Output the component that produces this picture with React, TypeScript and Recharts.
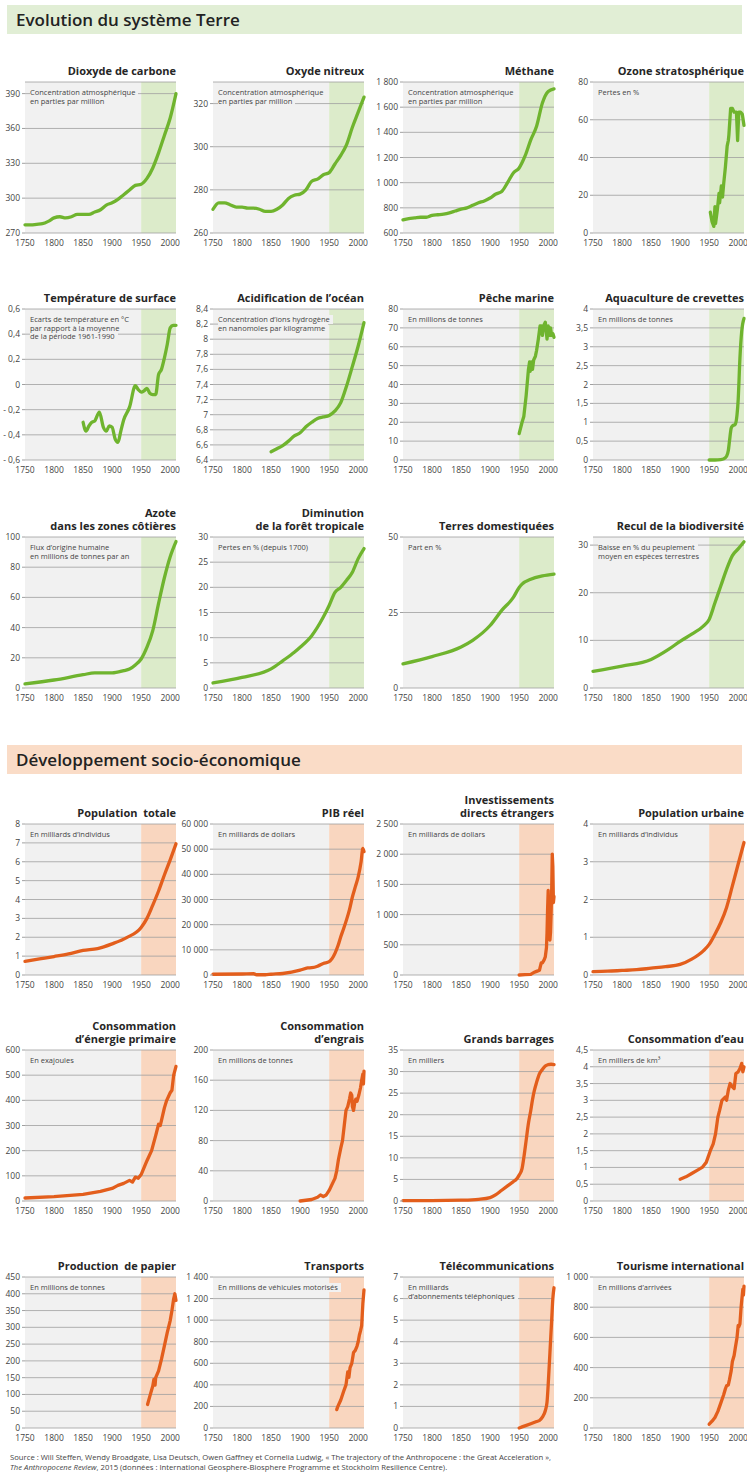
import React from 'react';
import { LineChart, Line, XAxis, YAxis, CartesianGrid, ReferenceArea } from 'recharts';

const FONT = '"Open Sans", "Noto Sans", sans-serif';
const X_TICKS = [1750, 1800, 1850, 1900, 1950, 2000];
const X_DOMAIN: [number, number] = [1750, 2010];
const SHADE_START = 1950;

// ---- Evolution du système Terre ----
const co2Years = [1750, 1760, 1770, 1780, 1790, 1800, 1810, 1820, 1830, 1840, 1850, 1860, 1870, 1880, 1890, 1900, 1910, 1920, 1930, 1940, 1950, 1960, 1970, 1980, 1990, 2000, 2010];
const co2Values = [277, 277, 277.5, 278, 280, 283, 284, 283, 284, 286, 286, 286, 288, 290, 294, 296, 299, 303, 307, 311, 312, 317, 326, 339, 354, 369, 390];
const co2Ticks = [270, 300, 330, 360, 390];

const n2oYears = [1750, 1760, 1770, 1780, 1790, 1800, 1810, 1820, 1830, 1840, 1850, 1860, 1870, 1880, 1890, 1900, 1910, 1920, 1930, 1940, 1950, 1960, 1970, 1980, 1990, 2000, 2010];
const n2oValues = [271, 274, 274, 273, 272, 272, 271.5, 271.5, 271, 270, 270, 271, 273, 276, 277.5, 278, 280, 284, 285, 287, 288, 292, 296, 301, 309, 316, 323];
const n2oTicks = [260, 280, 300, 320];

const ch4Years = [1750, 1760, 1770, 1780, 1790, 1800, 1810, 1820, 1830, 1840, 1850, 1860, 1870, 1880, 1890, 1900, 1910, 1920, 1930, 1940, 1950, 1960, 1970, 1980, 1990, 2000, 2010];
const ch4Values = [705, 715, 720, 725, 725, 740, 745, 750, 760, 775, 790, 800, 820, 840, 855, 878, 910, 930, 1000, 1077, 1117, 1210, 1340, 1448, 1633, 1725, 1745];
const ch4Ticks = [600, 800, 1000, 1200, 1400, 1600, 1800];

const ozoneYears = [1952, 1955, 1958, 1960, 1961, 1964, 1967, 1968, 1971, 1973, 1975, 1978, 1981, 1983, 1984, 1987, 1990, 1993, 1997, 1999, 2001, 2004, 2007, 2010];
const ozoneValues = [11, 6, 3.5, 14, 5, 12, 21, 16, 25, 19, 26, 35, 46, 49, 52, 66, 66, 64, 64, 49, 64, 64, 63, 57];
const ozoneTicks = [0, 20, 40, 60, 80];

const tempYears = [1850, 1855, 1860, 1865, 1870, 1878, 1885, 1890, 1895, 1900, 1905, 1910, 1915, 1920, 1930, 1940, 1945, 1950, 1955, 1960, 1965, 1970, 1975, 1980, 1985, 1990, 1995, 2000, 2005, 2010];
const tempValues = [-0.30, -0.37, -0.33, -0.30, -0.29, -0.22, -0.34, -0.37, -0.33, -0.34, -0.43, -0.46, -0.37, -0.28, -0.18, -0.01, -0.04, -0.06, -0.05, -0.03, -0.07, -0.08, -0.08, 0.08, 0.12, 0.21, 0.32, 0.45, 0.47, 0.47];
const tempTicks = [-0.6, -0.4, -0.2, 0, 0.2, 0.4, 0.6];

const acidYears = [1850, 1860, 1870, 1880, 1890, 1900, 1910, 1920, 1930, 1940, 1950, 1960, 1970, 1980, 1990, 2000, 2010];
const acidValues = [6.51, 6.55, 6.59, 6.65, 6.72, 6.76, 6.84, 6.9, 6.95, 6.97, 6.99, 7.05, 7.16, 7.38, 7.64, 7.91, 8.22];
const acidTicks = [6.4, 6.6, 6.8, 7, 7.2, 7.4, 7.6, 7.8, 8, 8.2, 8.4];

const fishYears = [1950, 1955, 1958, 1962, 1966, 1968, 1969, 1971, 1973, 1975, 1978, 1980, 1983, 1986, 1988, 1990, 1992, 1995, 1997, 1998, 2000, 2002, 2004, 2006, 2008, 2010];
const fishValues = [14, 20, 23, 34, 48, 52, 47, 52, 48, 53, 55, 58, 64, 71, 71, 66, 71, 73, 67, 64, 71, 66, 70, 66, 67, 65];
const fishTicks = [0, 10, 20, 30, 40, 50, 60, 70, 80];

const shrimpYears = [1950, 1960, 1970, 1975, 1980, 1983, 1985, 1988, 1990, 1995, 1998, 2000, 2003, 2006, 2010];
const shrimpValues = [0, 0, 0.01, 0.03, 0.1, 0.25, 0.5, 0.85, 0.9, 0.95, 1.2, 1.6, 2.7, 3.4, 3.75];
const shrimpTicks = [0, 0.5, 1, 1.5, 2, 2.5, 3, 3.5, 4];

const azoteYears = [1750, 1800, 1850, 1870, 1900, 1920, 1930, 1940, 1950, 1960, 1970, 1980, 1990, 2000, 2010];
const azoteValues = [2.7, 5.3, 8.8, 10, 10, 11.5, 12.6, 15.3, 19.2, 27, 38, 56, 73, 87, 97];
const azoteTicks = [0, 20, 40, 60, 80, 100];

const forestYears = [1750, 1800, 1850, 1870, 1890, 1900, 1920, 1940, 1950, 1960, 1970, 1980, 1990, 2000, 2010];
const forestValues = [1.0, 2.1, 3.8, 5.4, 7.1, 8.1, 10.4, 14.1, 16.4, 19.0, 20.0, 21.4, 23.0, 25.7, 27.7];
const forestTicks = [0, 5, 10, 15, 20, 25, 30];

const landYears = [1750, 1800, 1850, 1870, 1900, 1920, 1940, 1950, 1955, 1970, 1990, 2010];
const landValues = [8, 10.4, 13.6, 15.8, 20.7, 25.7, 30, 33.3, 34.4, 36, 37.1, 37.7];
const landTicks = [0, 25, 50];

const biodivYears = [1750, 1800, 1850, 1880, 1900, 1920, 1940, 1950, 1960, 1970, 1980, 1990, 2000, 2010];
const biodivValues = [3.5, 4.6, 6.0, 8.1, 9.8, 11.3, 13, 14.4, 17.9, 21.4, 24.9, 27.8, 29.2, 30.7];
const biodivTicks = [0, 10, 20, 30];

// ---- Développement socio-économique ----
const popYears = [1750, 1775, 1800, 1825, 1850, 1875, 1900, 1925, 1950, 1960, 1970, 1980, 1990, 2000, 2010];
const popValues = [0.72, 0.85, 0.98, 1.12, 1.3, 1.4, 1.65, 1.98, 2.52, 3.0, 3.7, 4.45, 5.3, 6.1, 6.95];
const popTicks = [0, 1, 2, 3, 4, 5, 6, 7, 8];

const gdpYears = [1750, 1800, 1820, 1825, 1840, 1850, 1870, 1900, 1913, 1920, 1930, 1940, 1950, 1955, 1960, 1965, 1970, 1975, 1980, 1985, 1990, 1995, 2000, 2005, 2008, 2010];
const gdpValues = [300, 400, 500, 100, 100, 300, 600, 1900, 2800, 2900, 3500, 4600, 5300, 6500, 8600, 11500, 15200, 18500, 22000, 26000, 31000, 35000, 39000, 45000, 50300, 49000];
const gdpTicks = [0, 10000, 20000, 30000, 40000, 50000, 60000];

const fdiYears = [1950, 1960, 1970, 1975, 1980, 1985, 1988, 1990, 1993, 1995, 1997, 1998, 1999, 2000, 2001, 2002, 2003, 2004, 2005, 2006, 2007, 2008, 2009, 2010];
const fdiValues = [0, 5, 10, 40, 60, 80, 200, 200, 250, 300, 450, 700, 1100, 1400, 800, 600, 580, 700, 1000, 1400, 2000, 1800, 1200, 1300];
const fdiTicks = [0, 500, 1000, 1500, 2000, 2500];

const urbanYears = [1750, 1775, 1800, 1825, 1850, 1875, 1900, 1920, 1940, 1950, 1960, 1970, 1980, 1990, 2000, 2010];
const urbanValues = [0.09, 0.1, 0.12, 0.14, 0.18, 0.22, 0.28, 0.42, 0.64, 0.81, 1.08, 1.39, 1.79, 2.36, 2.94, 3.51];
const urbanTicks = [0, 1, 2, 3, 4];

const energyYears = [1750, 1800, 1850, 1880, 1900, 1910, 1920, 1930, 1935, 1940, 1945, 1950, 1960, 1968, 1975, 1980, 1983, 1985, 1990, 1994, 2000, 2003, 2006, 2010];
const energyValues = [12, 17, 26, 38, 50, 62, 70, 82, 75, 95, 90, 105, 160, 200, 260, 305, 300, 320, 370, 400, 430, 440, 500, 535];
const energyTicks = [0, 100, 200, 300, 400, 500, 600];

const fertYears = [1900, 1910, 1920, 1930, 1935, 1940, 1945, 1950, 1955, 1960, 1963, 1966, 1970, 1973, 1976, 1979, 1982, 1985, 1987, 1989, 1990, 1992, 1994, 1996, 1998, 2001, 2004, 2006, 2008, 2009, 2010];
const fertValues = [0, 1, 2, 5, 8, 6, 8, 14, 22, 30, 40, 55, 70, 80, 100, 120, 125, 135, 143, 140, 125, 120, 130, 135, 132, 140, 150, 160, 168, 155, 172];
const fertTicks = [0, 40, 80, 120, 160, 200];

const damYears = [1750, 1800, 1850, 1880, 1900, 1910, 1920, 1930, 1940, 1945, 1950, 1955, 1958, 1962, 1966, 1970, 1973, 1976, 1980, 1985, 1990, 1995, 2000, 2005, 2010];
const damValues = [0.1, 0.1, 0.2, 0.4, 0.8, 1.5, 2.5, 3.5, 4.5, 5.0, 6.0, 7.5, 10, 14, 18, 21, 23.5, 25.5, 27.5, 29.5, 30.5, 31.3, 31.6, 31.7, 31.6];
const damTicks = [0, 5, 10, 15, 20, 25, 30, 35];

const waterYears = [1900, 1910, 1920, 1930, 1938, 1945, 1952, 1957, 1961, 1965, 1968, 1972, 1975, 1978, 1980, 1983, 1986, 1990, 1993, 1996, 2000, 2003, 2006, 2008, 2010];
const waterValues = [0.65, 0.72, 0.82, 0.92, 1.0, 1.15, 1.5, 1.7, 2.0, 2.5, 2.7, 3.0, 3.05, 3.1, 3.0, 3.3, 3.5, 3.4, 3.35, 3.8, 3.85, 3.95, 4.1, 3.85, 4.0];
const waterTicks = [0, 0.5, 1, 1.5, 2, 2.5, 3, 3.5, 4, 4.5];

const paperYears = [1961, 1965, 1970, 1972, 1974, 1975, 1980, 1985, 1990, 1995, 2000, 2003, 2006, 2008, 2010];
const paperValues = [70, 95, 125, 145, 128, 150, 170, 205, 245, 285, 320, 350, 385, 400, 380];
const paperTicks = [0, 50, 100, 150, 200, 250, 300, 350, 400, 450];

const transportYears = [1963, 1965, 1970, 1975, 1979, 1982, 1984, 1986, 1989, 1992, 1995, 1998, 2000, 2002, 2004, 2006, 2008, 2010];
const transportValues = [170, 200, 260, 340, 400, 520, 470, 560, 600, 700, 720, 760, 800, 860, 900, 950, 1150, 1280];
const transportTicks = [0, 200, 400, 600, 800, 1000, 1200, 1400];

const telecomYears = [1950, 1955, 1960, 1970, 1980, 1985, 1990, 1995, 1998, 2000, 2003, 2006, 2008, 2010];
const telecomValues = [0, 0.05, 0.1, 0.2, 0.3, 0.35, 0.5, 0.8, 1.2, 2.0, 3.5, 5.0, 6.0, 6.5];
const telecomTicks = [0, 1, 2, 3, 4, 5, 6, 7];

const tourismYears = [1950, 1955, 1960, 1965, 1970, 1975, 1978, 1980, 1983, 1985, 1988, 1990, 1993, 1995, 1998, 2000, 2001, 2003, 2005, 2008, 2009, 2010];
const tourismValues = [25, 45, 70, 110, 165, 220, 260, 280, 285, 320, 380, 440, 480, 530, 600, 680, 670, 690, 800, 920, 880, 940];
const tourismTicks = [0, 200, 400, 600, 800, 1000];

type PanelDef = {
  title: string[];
  note: string[];
  years: number[];
  values: number[];
  ticks: number[];
  domain: [number, number];
  smooth: boolean;
};

const earthPanels: PanelDef[] = [
  { title: ['Dioxyde de carbone'], note: ['Concentration atmosphérique', 'en parties par million'], years: co2Years, values: co2Values, ticks: co2Ticks, domain: [270, 400], smooth: true },
  { title: ['Oxyde nitreux'], note: ['Concentration atmosphérique', 'en parties par million'], years: n2oYears, values: n2oValues, ticks: n2oTicks, domain: [260, 330], smooth: true },
  { title: ['Méthane'], note: ['Concentration atmosphérique', 'en parties par million'], years: ch4Years, values: ch4Values, ticks: ch4Ticks, domain: [600, 1800], smooth: true },
  { title: ['Ozone stratosphérique'], note: ['Pertes en %'], years: ozoneYears, values: ozoneValues, ticks: ozoneTicks, domain: [0, 80], smooth: false },
  { title: ['Température de surface'], note: ['Ecarts de température en °C', 'par rapport à la moyenne', 'de la période 1961-1990'], years: tempYears, values: tempValues, ticks: tempTicks, domain: [-0.6, 0.6], smooth: true },
  { title: ['Acidification de l’océan'], note: ['Concentration d’ions hydrogène', 'en nanomoles par kilogramme'], years: acidYears, values: acidValues, ticks: acidTicks, domain: [6.4, 8.4], smooth: true },
  { title: ['Pêche marine'], note: ['En millions de tonnes'], years: fishYears, values: fishValues, ticks: fishTicks, domain: [0, 80], smooth: false },
  { title: ['Aquaculture de crevettes'], note: ['En millions de tonnes'], years: shrimpYears, values: shrimpValues, ticks: shrimpTicks, domain: [0, 4], smooth: true },
  { title: ['Azote', 'dans les zones côtières'], note: ['Flux d’origine humaine', 'en millions de tonnes par an'], years: azoteYears, values: azoteValues, ticks: azoteTicks, domain: [0, 100], smooth: true },
  { title: ['Diminution', 'de la forêt tropicale'], note: ['Pertes en % (depuis 1700)'], years: forestYears, values: forestValues, ticks: forestTicks, domain: [0, 30], smooth: true },
  { title: ['Terres domestiquées'], note: ['Part en %'], years: landYears, values: landValues, ticks: landTicks, domain: [0, 50], smooth: true },
  { title: ['Recul de la biodiversité'], note: ['Baisse en % du peuplement', 'moyen en espèces terrestres'], years: biodivYears, values: biodivValues, ticks: biodivTicks, domain: [0, 31.7], smooth: true },
];

const socioPanels: PanelDef[] = [
  { title: ['Population  totale'], note: ['En milliards d’individus'], years: popYears, values: popValues, ticks: popTicks, domain: [0, 8], smooth: true },
  { title: ['PIB réel'], note: ['En milliards de dollars'], years: gdpYears, values: gdpValues, ticks: gdpTicks, domain: [0, 60000], smooth: true },
  { title: ['Investissements', 'directs étrangers'], note: ['En milliards de dollars'], years: fdiYears, values: fdiValues, ticks: fdiTicks, domain: [0, 2500], smooth: false },
  { title: ['Population urbaine'], note: ['En milliards d’individus'], years: urbanYears, values: urbanValues, ticks: urbanTicks, domain: [0, 4], smooth: true },
  { title: ['Consommation', 'd’énergie primaire'], note: ['En exajoules'], years: energyYears, values: energyValues, ticks: energyTicks, domain: [0, 600], smooth: false },
  { title: ['Consommation', 'd’engrais'], note: ['En millions de tonnes'], years: fertYears, values: fertValues, ticks: fertTicks, domain: [0, 200], smooth: false },
  { title: ['Grands barrages'], note: ['En milliers'], years: damYears, values: damValues, ticks: damTicks, domain: [0, 35], smooth: true },
  { title: ['Consommation d’eau'], note: ['En milliers de km³'], years: waterYears, values: waterValues, ticks: waterTicks, domain: [0, 4.5], smooth: false },
  { title: ['Production  de papier'], note: ['En millions de tonnes'], years: paperYears, values: paperValues, ticks: paperTicks, domain: [0, 450], smooth: false },
  { title: ['Transports'], note: ['En millions de véhicules motorisés'], years: transportYears, values: transportValues, ticks: transportTicks, domain: [0, 1400], smooth: false },
  { title: ['Télécommunications'], note: ['En milliards', 'd’abonnements téléphoniques'], years: telecomYears, values: telecomValues, ticks: telecomTicks, domain: [0, 7], smooth: true },
  { title: ['Tourisme international'], note: ['En millions d’arrivées'], years: tourismYears, values: tourismValues, ticks: tourismTicks, domain: [0, 1000], smooth: false },
];

const COLS = [25, 213, 403, 593];
const ROWS = [82, 309, 537, 824, 1050, 1277];
const PW = 151;
const PH = 151;
const YW = 34;
const MT = 6;
const MR = 4;
const XH = 20;

const PLOT_BG = '#f1f1f1';
const GRID = '#a0a0a0';

const THEMES = {
  green: { line: '#6fb42e', shade: '#dcebca', band: '#e1eed5' },
  orange: { line: '#e35e1c', shade: '#f9d6bf', band: '#fadcc7' },
};

function fmt(v: number): string {
  const neg = v < 0;
  const a = Math.abs(v);
  let s = Number.isInteger(a) ? String(a) : String(Math.round(a * 100) / 100).replace('.', ',');
  if (a >= 1000) s = s.replace(/\B(?=(\d{3})+(?!\d))/g, '\u00a0');
  return neg ? '- ' + s : s;
}

function Panel({ p, col, row, theme }: { p: PanelDef; col: number; row: number; theme: 'green' | 'orange' }) {
  const left = COLS[col];
  const top = ROWS[row];
  const t = THEMES[theme];
  const data = p.years.map((y, i) => ({ year: y, value: p.values[i] }));
  const lh = 12.5;
  return (
    <>
      <div
        style={{
          position: 'absolute',
          left: left - 50,
          width: PW + 50,
          top: top - 5 - p.title.length * lh,
          textAlign: 'right',
          fontWeight: 700,
          fontSize: 11,
          lineHeight: lh + 'px',
          color: '#262626',
          whiteSpace: 'pre',
          fontFamily: FONT,
        }}
      >
        {p.title.map((l, i) => (
          <div key={i}>{l}</div>
        ))}
      </div>
      <div style={{ position: 'absolute', left: left - YW, top: top - MT }}>
        <LineChart width={YW + PW + MR} height={MT + PH + XH} data={data} margin={{ top: MT, right: MR, bottom: 0, left: 0 }}>
          <XAxis
            dataKey="year"
            type="number"
            domain={X_DOMAIN}
            ticks={X_TICKS}
            interval={0}
            height={XH}
            axisLine={false}
            tickLine={false}
            tickSize={4}
            tickMargin={3}
            tick={{ fontSize: 8.5, fill: '#444', fontFamily: FONT }}
          />
          <YAxis
            type="number"
            domain={p.domain}
            ticks={p.ticks}
            interval={0}
            width={YW}
            axisLine={false}
            tickLine={{ stroke: GRID }}
            tickSize={3}
            tickMargin={2}
            tickFormatter={fmt}
            tick={{ fontSize: 8.5, fill: '#444', fontFamily: FONT }}
          />
          <ReferenceArea x1={X_DOMAIN[0]} x2={SHADE_START} fill={PLOT_BG} fillOpacity={1} stroke="none" zIndex={-200} />
          <ReferenceArea x1={SHADE_START} x2={X_DOMAIN[1]} fill={t.shade} fillOpacity={1} stroke="none" zIndex={-200} />
          <CartesianGrid vertical={false} stroke={GRID} strokeWidth={0.8} />
          <Line
            type={p.smooth ? 'monotone' : 'linear'}
            dataKey="value"
            stroke={t.line}
            strokeWidth={3.3}
            dot={false}
            isAnimationActive={false}
            strokeLinejoin="round"
            strokeLinecap="round"
          />
        </LineChart>
      </div>
      <div
        style={{
          position: 'absolute',
          left: left + 5,
          top: top + 6,
          fontSize: 7.5,
          lineHeight: '8.5px',
          color: '#444',
          fontFamily: FONT,
        }}
      >
        {p.note.map((l, i) => (
          <div key={i} style={{ width: 'fit-content', background: PLOT_BG, paddingRight: 3, whiteSpace: 'nowrap' }}>
            {l}
          </div>
        ))}
      </div>
    </>
  );
}

function Header({ text, top, color }: { text: string; top: number; color: string }) {
  return (
    <div
      style={{
        position: 'absolute',
        left: 7,
        width: 735,
        top,
        height: 29,
        background: color,
        fontFamily: FONT,
        fontWeight: 600,
        fontSize: 17,
        lineHeight: '29px',
        color: '#222',
        paddingLeft: 9,
        boxSizing: 'border-box',
      }}
    >
      {text}
    </div>
  );
}

export default function App() {
  return (
    <div style={{ position: 'absolute', left: 0, top: 0, width: 747, height: 1476, background: '#fff', overflow: 'hidden', fontFamily: FONT }}>
      <Header text="Evolution du système Terre" top={5} color={THEMES.green.band} />
      {earthPanels.map((p, i) => (
        <Panel key={'e' + i} p={p} col={i % 4} row={Math.floor(i / 4)} theme="green" />
      ))}
      <Header text="Développement socio-économique" top={745} color={THEMES.orange.band} />
      {socioPanels.map((p, i) => (
        <Panel key={'s' + i} p={p} col={i % 4} row={3 + Math.floor(i / 4)} theme="orange" />
      ))}
      <div style={{ position: 'absolute', left: 10, top: 1452, fontSize: 7.7, lineHeight: '10px', color: '#444', fontFamily: FONT, whiteSpace: 'nowrap' }}>
        <div>Source : Will Steffen, Wendy Broadgate, Lisa Deutsch, Owen Gaffney et Cornelia Ludwig, « The trajectory of the Anthropocene : the Great Acceleration »,</div>
        <div>
          <i>The Anthropocene Review</i>, 2015 (données : International Geosphere-Biosphere Programme et Stockholm Resilience Centre).
        </div>
      </div>
    </div>
  );
}
